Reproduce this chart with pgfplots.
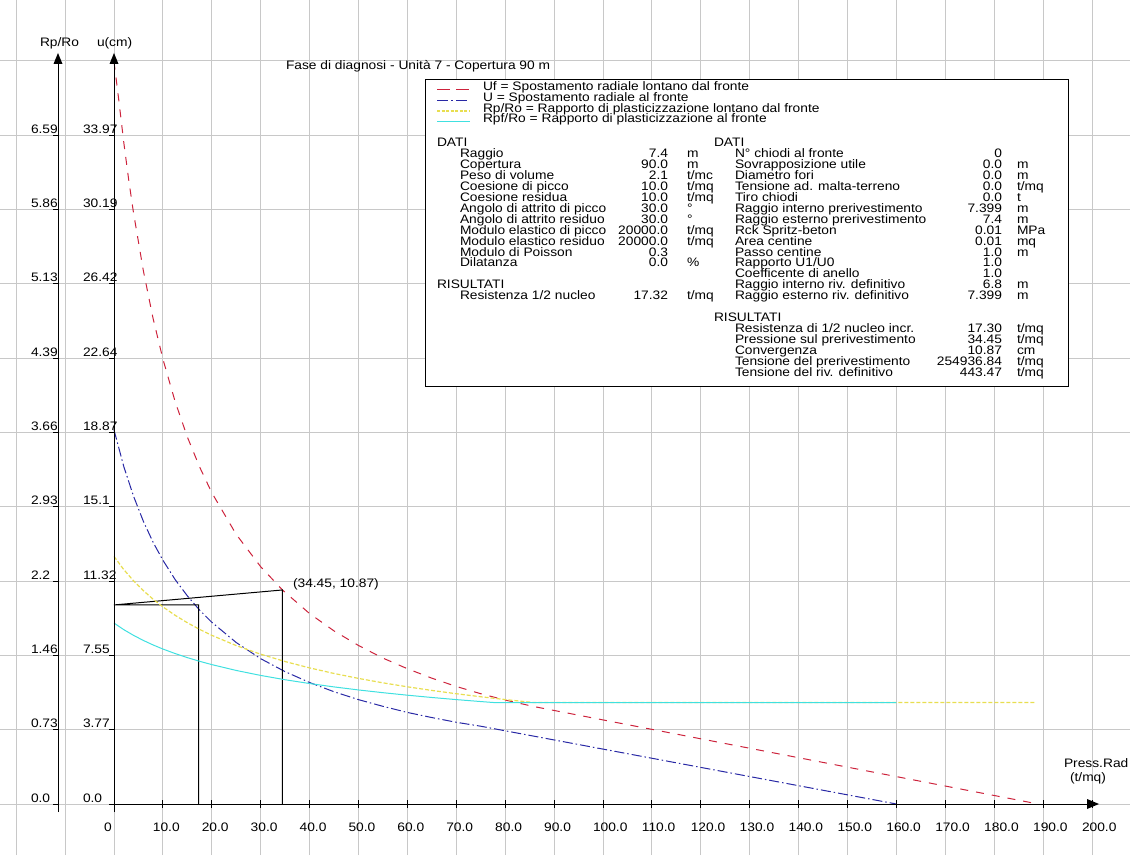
\documentclass[border=0pt]{standalone}
\usepackage{pgfplots}
\pgfplotsset{compat=1.18}
\usepackage{fontspec}
\setmainfont{Liberation Sans}[FakeStretch=1.12]
\definecolor{cRed}{RGB}{205,35,60}
\definecolor{cBlue}{RGB}{40,40,165}
\definecolor{cYel}{RGB}{232,222,80}
\definecolor{cCyan}{RGB}{64,224,224}
\definecolor{cGrid}{RGB}{200,200,200}
\tikzset{T/.style={font=\fontsize{12.3}{11}\selectfont, inner sep=0pt, outer sep=0pt}}
\newcommand\rowL[4]{%
  \node[T,anchor=base west] at (460,{157.5+10.95*#1}) {#2};
  \node[T,anchor=base east] at (668,{157.5+10.95*#1}) {#3};
  \node[T,anchor=base west] at (687,{157.5+10.95*#1}) {#4};}
\newcommand\rowR[4]{%
  \node[T,anchor=base west] at (735,{157.5+10.95*#1}) {#2};
  \node[T,anchor=base east] at (1002,{157.5+10.95*#1}) {#3};
  \node[T,anchor=base west] at (1017,{157.5+10.95*#1}) {#4};}
\begin{document}
\begin{tikzpicture}
\begin{axis}[at={(0,0)},anchor=south west,width=1130pt,height=855pt,scale only axis,
  xmin=-23.3129, xmax=207.771, ymin=-2.5901, ymax=40.8329,
  xtick={-20,-10,0,10,20,30,40,50,60,70,80,90,100,110,120,130,140,150,160,170,180,190,200},
  ytick={0,3.774,7.548,11.322,15.096,18.87,22.644,26.418,30.192,33.966,37.74},
  grid=major, major grid style={cGrid, line width=1pt},
  axis line style={draw=none}, major tick length=0pt, xticklabels={}, yticklabels={}]
% Uf - spostamento radiale lontano dal fronte
\addplot[cRed, line width=1pt, dash pattern=on 8pt off 8pt] coordinates {
(0,37.7) (1,35.71) (2,33.60) (3,31.71) (4,30.01) (6,27.09) (8,24.65) (10,22.60) (12.5,20.44)
(15,18.64) (17.5,17.12) (20,15.81) (25,13.69) (30,12.05) (34.45,10.87) (40,9.67) (45,8.79)
(50,8.05) (55,7.41) (60,6.87) (65,6.39) (70,5.97) (75,5.60) (80,5.28) (85.84,4.95) (189,0)};
% U - spostamento radiale al fronte
\addplot[cBlue, line width=1pt, dash pattern=on 10pt off 3pt on 1.5pt off 3pt] coordinates {
(0,19.0) (2,17.14) (4,15.63) (6,14.36) (8,13.29) (10,12.38) (12.5,11.40) (15,10.57)
(17.5,9.85) (20,9.23) (25,8.20) (30,7.38) (35,6.72) (40,6.17) (45,5.70) (50,5.30) (55,4.96)
(60,4.65) (65,4.39) (70,4.15) (75,3.95) (160,0)};
% construction lines
\addplot[black, line width=1pt] coordinates {(17.30,0) (17.30,10.11) (0,10.11) (34.45,10.87) (34.45,0)};
\end{axis}
\begin{axis}[at={(0,0)},anchor=south west,width=1130pt,height=855pt,scale only axis,hide axis,
  xmin=-23.3129, xmax=207.771, ymin=-0.5027, ymax=7.9251]
% Rp/Ro
\addplot[cYel, line width=1.2pt, dash pattern=on 4pt off 2pt] coordinates {
(0,2.4405) (2,2.3107) (4,2.1997) (6,2.1033) (8,2.0185) (10,1.9432) (12.5,1.8600) (15,1.7866)
(17.5,1.7213) (20,1.6626) (25,1.5613) (30,1.4765) (35,1.4042) (40,1.3415) (45,1.2866)
(50,1.2379) (55,1.1943) (60,1.1551) (65,1.1195) (70,1.0869) (75,1.0571) (80,1.0296)
(85.84,1.0) (188.5,1.0)};
% Rpf/Ro
\addplot[cCyan, line width=1pt] coordinates {
(0,1.7836) (2,1.7186) (4,1.6622) (6,1.6122) (8,1.5677) (10,1.5276) (12.5,1.4829) (15,1.4428)
(17.5,1.4068) (20,1.3740) (25,1.3164) (30,1.2673) (35,1.2248) (40,1.1874) (45,1.1541)
(50,1.1242) (55,1.0972) (60,1.0725) (65,1.0499) (70,1.0291) (75,1.0098) (77.7,1.0) (160,1.0)};
\end{axis}
\begin{scope}[yshift=855pt,x=1pt,y=-1pt]
% axes
\draw[line width=1pt] (58,812)--(58,60);
\fill (58,53)--(53.5,64)--(62.5,64)--cycle;
\draw[line width=1pt] (114,812)--(114,60);
\fill (114,53)--(109.5,64)--(118.5,64)--cycle;
\draw[line width=1pt] (114,804)--(1088,804);
\fill (1099,804)--(1087,799)--(1087,809)--cycle;
\foreach \v in {10,20,...,200} {\draw[line width=1pt] ({114+4.89*\v},800)--({114+4.89*\v},808);}
\foreach \v/\l in {0/0,10/10.0,20/20.0,30/30.0,40/40.0,50/50.0,60/60.0,70/70.0,80/80.0,90/90.0,
  100/100.0,110/110.0,120/120.0,130/130.0,140/140.0,150/150.0,160/160.0,170/170.0,180/180.0,190/190.0,200/200.0}
  {\node[T,anchor=base west] at ({114+4.89*\v-10},831) {\l};}
\foreach \k/\r/\u in {0/0.0/0.0,1/0.73/3.77,2/1.46/7.55,3/2.2/11.32,4/2.93/15.1,5/3.66/18.87,
  6/4.39/22.64,7/5.13/26.42,8/5.86/30.19,9/6.59/33.97}
  {\draw[line width=1pt] (53,{804-74.31*\k})--(58,{804-74.31*\k});
   \draw[line width=1pt] (109,{804-74.31*\k})--(114,{804-74.31*\k});
   \node[T,anchor=base west] at (31,{802-74.31*\k}) {\r};
   \node[T,anchor=base west] at (83,{802-74.31*\k}) {\u};}
\node[T,anchor=base west] at (40,47) {Rp/Ro};
\node[T,anchor=base west] at (97,47) {u(cm)};
\node[T,anchor=base west] at (1064,767) {Press.Rad};
\node[T,anchor=base west] at (1070,781) {(t/mq)};
\node[T,anchor=base west] at (286,70) {Fase di diagnosi - Unità 7 - Copertura 90 m};
\node[T,anchor=base west] at (293,588) {(34.45, 10.87)};
% legend box
\draw[fill=white, line width=1pt] (425,79.3) rectangle (1068,387);
\draw[cRed, line width=1pt, dash pattern=on 13pt off 6pt] (437,90)--(470,90);
\draw[cBlue, line width=1pt, dash pattern=on 11pt off 3pt on 2pt off 3pt] (437,100.5)--(470,100.5);
\draw[cYel, line width=1.2pt, dash pattern=on 3pt off 1.5pt] (437,111)--(470,111);
\draw[cCyan, line width=1pt] (437,121.5)--(470,121.5);
\node[T,anchor=base west] at (483,90.9) {Uf = Spostamento radiale lontano dal fronte};
\node[T,anchor=base west] at (483,101.5) {U = Spostamento radiale al fronte};
\node[T,anchor=base west] at (483,112.1) {Rp/Ro = Rapporto di plasticizzazione lontano dal fronte};
\node[T,anchor=base west] at (483,122.7) {Rpf/Ro = Rapporto di plasticizzazione al fronte};
\node[T,anchor=base west] at (437,146.55) {DATI};
\node[T,anchor=base west] at (714,146.55) {DATI};
\rowL{0}{Raggio}{7.4}{m}
\rowL{1}{Copertura}{90.0}{m}
\rowL{2}{Peso di volume}{2.1}{t/mc}
\rowL{3}{Coesione di picco}{10.0}{t/mq}
\rowL{4}{Coesione residua}{10.0}{t/mq}
\rowL{5}{Angolo di attrito di picco}{30.0}{°}
\rowL{6}{Angolo di attrito residuo}{30.0}{°}
\rowL{7}{Modulo elastico di picco}{20000.0}{t/mq}
\rowL{8}{Modulo elastico residuo}{20000.0}{t/mq}
\rowL{9}{Modulo di Poisson}{0.3}{}
\rowL{10}{Dilatanza}{0.0}{\%}
\node[T,anchor=base west] at (437,288.9) {RISULTATI};
\rowL{13}{Resistenza 1/2 nucleo}{17.32}{t/mq}
\rowR{0}{N° chiodi al fronte}{0}{}
\rowR{1}{Sovrapposizione utile}{0.0}{m}
\rowR{2}{Diametro fori}{0.0}{m}
\rowR{3}{Tensione ad. malta-terreno}{0.0}{t/mq}
\rowR{4}{Tiro chiodi}{0.0}{t}
\rowR{5}{Raggio interno prerivestimento}{7.399}{m}
\rowR{6}{Raggio esterno prerivestimento}{7.4}{m}
\rowR{7}{Rck Spritz-beton}{0.01}{MPa}
\rowR{8}{Area centine}{0.01}{mq}
\rowR{9}{Passo centine}{1.0}{m}
\rowR{10}{Rapporto U1/U0}{1.0}{}
\rowR{11}{Coefficente di anello}{1.0}{}
\rowR{12}{Raggio interno riv. definitivo}{6.8}{m}
\rowR{13}{Raggio esterno riv. definitivo}{7.399}{m}
\node[T,anchor=base west] at (714,321.75) {RISULTATI};
\rowR{16}{Resistenza di 1/2 nucleo incr.}{17.30}{t/mq}
\rowR{17}{Pressione sul prerivestimento}{34.45}{t/mq}
\rowR{18}{Convergenza}{10.87}{cm}
\rowR{19}{Tensione del prerivestimento}{254936.84}{t/mq}
\rowR{20}{Tensione del riv. definitivo}{443.47}{t/mq}
\end{scope}
\pgfresetboundingbox
\path[use as bounding box] (0,0) rectangle (1130pt,855pt);
\end{tikzpicture}
\end{document}
